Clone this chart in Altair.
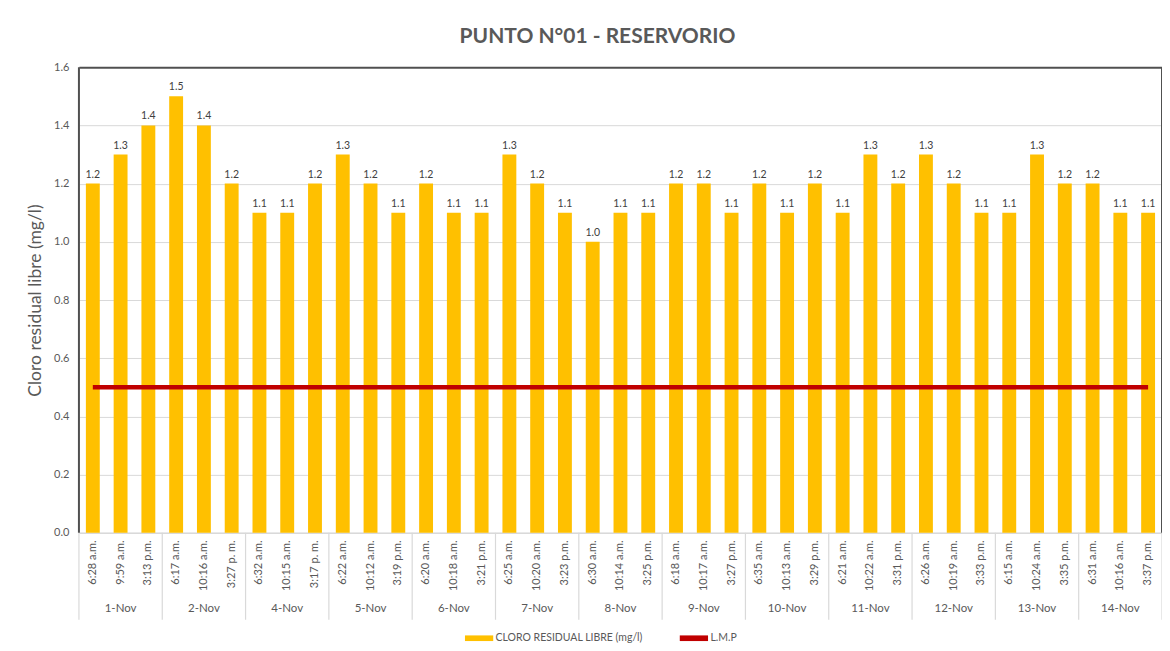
import altair as alt
import pandas as pd

days = ["1-Nov", "2-Nov", "4-Nov", "5-Nov", "6-Nov", "7-Nov", "8-Nov",
        "9-Nov", "10-Nov", "11-Nov", "12-Nov", "13-Nov", "14-Nov"]
times = [
    ["6:28 a.m.", "9:59 a.m.", "3:13 p.m."],
    ["6:17 a.m.", "10:16 a.m.", "3:27 p. m."],
    ["6:32 a.m.", "10:15 a.m.", "3:17 p. m."],
    ["6:22 a.m.", "10:12 a.m.", "3:19 p.m."],
    ["6:20 a.m.", "10:18 a.m.", "3:21 p.m."],
    ["6:25 a.m.", "10:20 a.m.", "3:23 p.m."],
    ["6:30 a.m.", "10:14 a.m.", "3:25 p.m."],
    ["6:18 a.m.", "10:17 a.m.", "3:27 p.m."],
    ["6:35 a.m.", "10:13 a.m.", "3:29 p.m."],
    ["6:21 a.m.", "10:22 a.m.", "3:31 p.m."],
    ["6:26 a.m.", "10:19 a.m.", "3:33 p.m."],
    ["6:15 a.m.", "10:24 a.m.", "3:35 p.m."],
    ["6:31 a.m.", "10:16 a.m.", "3:37 p.m."],
]
cloro = [
    [1.2, 1.3, 1.4],
    [1.5, 1.4, 1.2],
    [1.1, 1.1, 1.2],
    [1.3, 1.2, 1.1],
    [1.2, 1.1, 1.1],
    [1.3, 1.2, 1.1],
    [1.0, 1.1, 1.1],
    [1.2, 1.2, 1.1],
    [1.2, 1.1, 1.2],
    [1.1, 1.3, 1.2],
    [1.3, 1.2, 1.1],
    [1.1, 1.3, 1.2],
    [1.2, 1.1, 1.1],
]
y_ticks = [0.0, 0.2, 0.4, 0.6, 0.8, 1.0, 1.2, 1.4, 1.6]
lmp_value = 0.5
serie_bar = "CLORO RESIDUAL LIBRE (mg/l)"
serie_line = "L.M.P"

rows = []
for d, ts, vs in zip(days, times, cloro):
    for j, (t, v) in enumerate(zip(ts, vs)):
        rows.append({"key": f"{d}|{t}", "day": d, "time": t, "pos": j,
                     "valor": v, "lmp": lmp_value, "serie": serie_bar})
df = pd.DataFrame(rows)
order = list(df["key"])

W, H = 1084, 466
GREY = "#595959"
BORDER = "#505050"

x_enc = alt.X("key:N", sort=order,
              scale=alt.Scale(paddingInner=0, paddingOuter=0),
              axis=alt.Axis(title=None, labelAngle=270,
                            labelExpr="split(datum.value, '|')[1]",
                            labelColor=GREY, labelFontSize=11,
                            labelPadding=7, ticks=False,
                            domainColor="#d9d9d9", domainWidth=1.5,
                            labelFont="Lato"))

base = alt.Chart(df)

bars = base.mark_bar(color="#FFC000", width=alt.RelativeBandSize(0.5)).encode(
    x=x_enc,
    y=alt.Y("valor:Q",
            scale=alt.Scale(domain=[y_ticks[0], y_ticks[-1]], nice=False),
            axis=alt.Axis(title="Cloro residual libre (mg/l)", values=y_ticks,
                          format=".1f", labelColor=GREY, labelFontSize=11,
                          titleColor=GREY, titleFontSize=17.5, titleFontWeight="normal",
                          titlePadding=9, labelPadding=10, ticks=False, domain=False,
                          gridColor=alt.condition(f"datum.value >= {y_ticks[-1]}",
                                                  alt.value(BORDER), alt.value("#d9d9d9")),
                          gridWidth=alt.condition(f"datum.value >= {y_ticks[-1]}",
                                                  alt.value(2), alt.value(1)),
                          labelFont="Lato", titleFont="Lato")),
    color=alt.Color("serie:N",
                    scale=alt.Scale(domain=[serie_bar, serie_line], range=["#FFC000", "#C00000"]),
                    legend=alt.Legend(title=None, orient="none", direction="horizontal",
                                      legendX=386, legendY=557,
                                      symbolType="M-1,-0.2H1V0.2H-1Z", symbolSize=800,
                                      symbolStrokeWidth=0, symbolOpacity=1,
                                      labelFontSize=10.5, labelColor=GREY, labelFont="Lato",
                                      columnPadding=36, labelOffset=2)),
)

labels = base.mark_text(dy=-9, fontSize=10.5, color="#404040", font="Lato").encode(
    x=alt.X("key:N", sort=order),
    y=alt.Y("valor:Q"),
    text=alt.Text("valor:Q", format=".1f"),
)

line = base.mark_line(color="#C00000", strokeWidth=4.5).encode(
    x=alt.X("key:N", sort=order),
    y=alt.Y("lmp:Q"),
)

starts = df[df["pos"] == 0]
ends = df[(df["pos"] == 2) & (df["day"] == days[-1])]
mids = df[df["pos"] == 1]

sep_start = alt.Chart(starts).mark_rule(color="#d9d9d9", strokeWidth=1.2).encode(
    x=alt.X("key:N", sort=order, bandPosition=0),
    y=alt.value(H), y2=alt.value(H + 87),
)
sep_end = alt.Chart(ends).mark_rule(color="#d9d9d9", strokeWidth=1.2).encode(
    x=alt.X("key:N", sort=order, bandPosition=1),
    y=alt.value(H), y2=alt.value(H + 87),
)
border_l = alt.Chart(starts.head(1)).mark_rule(color=BORDER, strokeWidth=2).encode(
    x=alt.X("key:N", sort=order, bandPosition=0),
    y=alt.value(0), y2=alt.value(H),
)
border_r = alt.Chart(ends).mark_rule(color=BORDER, strokeWidth=2).encode(
    x=alt.X("key:N", sort=order, bandPosition=1),
    y=alt.value(0), y2=alt.value(H),
)
day_text = alt.Chart(mids).mark_text(fontSize=11.5, color=GREY, font="Lato").encode(
    x=alt.X("key:N", sort=order),
    y=alt.value(H + 76),
    text="day:N",
)

chart = alt.layer(bars, labels, line, sep_start, sep_end, border_l, border_r, day_text).properties(
    width=W, height=H,
    title=alt.TitleParams("PUNTO N°01 - RESERVORIO", fontSize=21, font="Lato",
                          fontWeight="bold", color=GREY, anchor="middle", offset=14, dx=-23),
    autosize=alt.AutoSizeParams(type="none"),
    padding={"left": 71, "top": 59, "right": 0, "bottom": 112},
).configure_view(stroke=None)

chart.save("out.html", embed_options={"renderer": "svg", "actions": False})
